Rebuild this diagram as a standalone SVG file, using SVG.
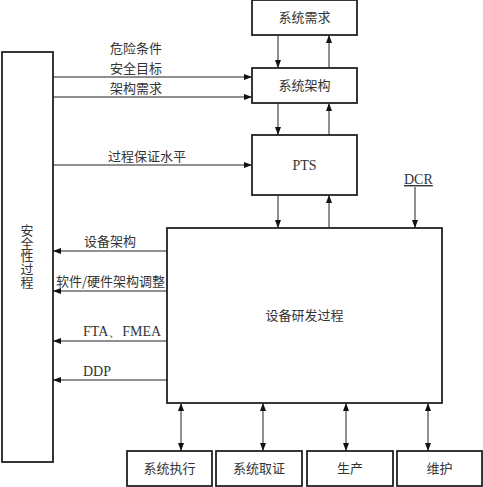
<svg xmlns="http://www.w3.org/2000/svg" width="483" height="487" viewBox="0 0 483 487">
<defs>
<marker id="ah" markerWidth="8" markerHeight="6" refX="8" refY="3" orient="auto-start-reverse" markerUnits="userSpaceOnUse">
<path d="M0,0 L8,3 L0,6 z" fill="#111"/>
</marker>
<style>
.box{fill:#fff;stroke:#222;stroke-width:1.8}
.cn{font-family:"Noto Sans CJK SC","Liberation Sans",sans-serif;font-size:13px;fill:#333}
.lat{font-family:"Liberation Serif",serif;font-size:14px;fill:#333}
.ln{stroke:#222;stroke-width:1;fill:none}
.a{marker-end:url(#ah)}
.b{marker-start:url(#ah);marker-end:url(#ah)}
</style>
</defs>
<rect width="483" height="487" fill="#fff"/>
<g id="connectors">
<line class="ln a" x1="278" y1="35" x2="278" y2="68"/>
<line class="ln a" x1="329" y1="68" x2="329" y2="35"/>
<line class="ln a" x1="278" y1="103" x2="278" y2="135"/>
<line class="ln a" x1="329" y1="135" x2="329" y2="103"/>
<line class="ln a" x1="278" y1="195" x2="278" y2="228"/>
<line class="ln a" x1="329" y1="228" x2="329" y2="195"/>
<line class="ln a" x1="415" y1="187" x2="415" y2="228"/>
<line class="ln a" x1="53" y1="77" x2="252" y2="77"/>
<line class="ln a" x1="53" y1="97" x2="252" y2="97"/>
<line class="ln a" x1="53" y1="165" x2="252" y2="165"/>
<line class="ln a" x1="167" y1="251" x2="53" y2="251"/>
<line class="ln a" x1="167" y1="291" x2="53" y2="291"/>
<line class="ln a" x1="167" y1="341" x2="53" y2="341"/>
<line class="ln a" x1="167" y1="380" x2="53" y2="380"/>
<line class="ln b" x1="181" y1="403" x2="181" y2="451"/>
<line class="ln b" x1="263" y1="403" x2="263" y2="451"/>
<line class="ln b" x1="346" y1="403" x2="346" y2="451"/>
<line class="ln b" x1="428" y1="403" x2="428" y2="451"/>
<text class="cn" x="110" y="53">危险条件</text>
<text class="cn" x="110" y="72.5">安全目标</text>
<text class="cn" x="110" y="93">架构需求</text>
<text class="cn" x="108" y="161">过程保证水平</text>
<text class="cn" x="84" y="246">设备架构</text>
<text class="cn" x="56" y="286">软件/硬件架构调整</text>
<text class="lat" x="83" y="336">FTA、FMEA</text>
<text class="lat" x="83" y="376">DDP</text>
<text class="lat" x="404" y="184" text-decoration="underline">DCR</text>
</g>
<g id="safety">
<rect class="box" x="2" y="52" width="51" height="410"/>
<text class="cn" x="27" y="224" style="writing-mode:vertical-rl">安全性过程</text>
</g>
<g id="sysreq">
<rect class="box" x="252" y="0" width="105" height="35"/>
<text class="cn" x="304.5" y="22" text-anchor="middle">系统需求</text>
</g>
<g id="sysarch">
<rect class="box" x="252" y="68" width="105" height="35"/>
<text class="cn" x="304.5" y="90" text-anchor="middle">系统架构</text>
</g>
<g id="pts">
<rect class="box" x="252" y="135" width="105" height="60"/>
<text class="lat" x="304.5" y="170" text-anchor="middle">PTS</text>
</g>
<g id="dev">
<rect class="box" x="167" y="228" width="275" height="175"/>
<text class="cn" x="304.5" y="320" text-anchor="middle">设备研发过程</text>
</g>
<g id="exec">
<rect class="box" x="127" y="451" width="85" height="35"/>
<text class="cn" x="169.5" y="473" text-anchor="middle">系统执行</text>
</g>
<g id="cert">
<rect class="box" x="216" y="451" width="86" height="35"/>
<text class="cn" x="259" y="473" text-anchor="middle">系统取证</text>
</g>
<g id="prod">
<rect class="box" x="307" y="451" width="86" height="35"/>
<text class="cn" x="350" y="473" text-anchor="middle">生产</text>
</g>
<g id="maint">
<rect class="box" x="397" y="451" width="85" height="35"/>
<text class="cn" x="439.5" y="473" text-anchor="middle">维护</text>
</g>
</svg>
